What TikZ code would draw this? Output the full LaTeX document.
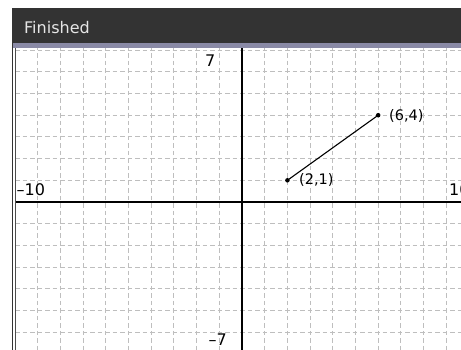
\documentclass[tikz,border=0pt]{standalone}
\usepackage{fontspec}
\setmainfont{DejaVu Sans}
\definecolor{barbg}{HTML}{333333}
\definecolor{band}{HTML}{8A8AA6}
\definecolor{gridc}{HTML}{BEBEBE}
\definecolor{titletxt}{HTML}{E6E6E6}
\begin{document}
\begin{tikzpicture}[x=1pt,y=-1pt,
  gridline/.style={gridc,line width=1pt,dash pattern=on 4.5pt off 3pt},
  axisline/.style={black,line width=1.2pt},
  ptdot/.style={circle,fill=black,inner sep=0pt,minimum size=4.5pt},
  ptlabel/.style={font=\fontsize{14.5}{14.5}\selectfont,inner sep=0pt,anchor=west},
  axlabel/.style={font=\fontsize{16}{16}\selectfont,inner sep=0pt}]
\useasboundingbox (0,0) rectangle (461,350);
\fill[white] (0,0) rectangle (461,350);
% title bar
\fill[barbg] (12,9) rectangle (461,43);
\fill[band] (12,43) rectangle (461,48.5);
\node[anchor=west,inner sep=0pt,text=titletxt,font=\fontsize{16}{16}\selectfont] (title) at (24,28) {Finished};
% frame
\draw[black!80,line width=1pt] (12.5,350) -- (12.5,9) -- (461,9);
\draw[black!70,line width=1pt] (15.5,48.5) -- (15.5,350);
% plot
\begin{scope}
\clip (16,48.5) rectangle (461,350);
\begin{scope}[shift={(242,202)},x=22.7pt,y=21.7pt]
\foreach \k in {-9,...,9}{\ifnum\k=0\else\draw[gridline] (\k,7.2) -- (\k,-7.5);\fi}
\foreach \j in {-7,...,7}{\ifnum\j=0\else\draw[gridline] (-10,\j) -- (10.5,\j);\fi}
\draw[axisline] (-10.5,0) -- (10.5,0);
\draw[axisline] (0,7.5) -- (0,-7.5);
\coordinate (P) at (2,1);
\coordinate (Q) at (6,4);
\draw[black,line width=1.1pt] (P) -- (Q);
\node[ptdot] (p) at (P) {};
\node[ptdot] (q) at (Q) {};
\end{scope}
\end{scope}
\node[ptlabel] (lq) at (389,116) {(6,4)};
\node[ptlabel] (lp) at (299,180) {(2,1)};
\node[axlabel,anchor=east] (l7) at (215.5,61) {7};
\node[axlabel,anchor=east] (lm7) at (227,340) {–7};
\node[axlabel,anchor=west] (lm10) at (16.5,190) {–10};
\node[axlabel,anchor=west] (l10) at (449,190) {10};
\end{tikzpicture}
\end{document}
